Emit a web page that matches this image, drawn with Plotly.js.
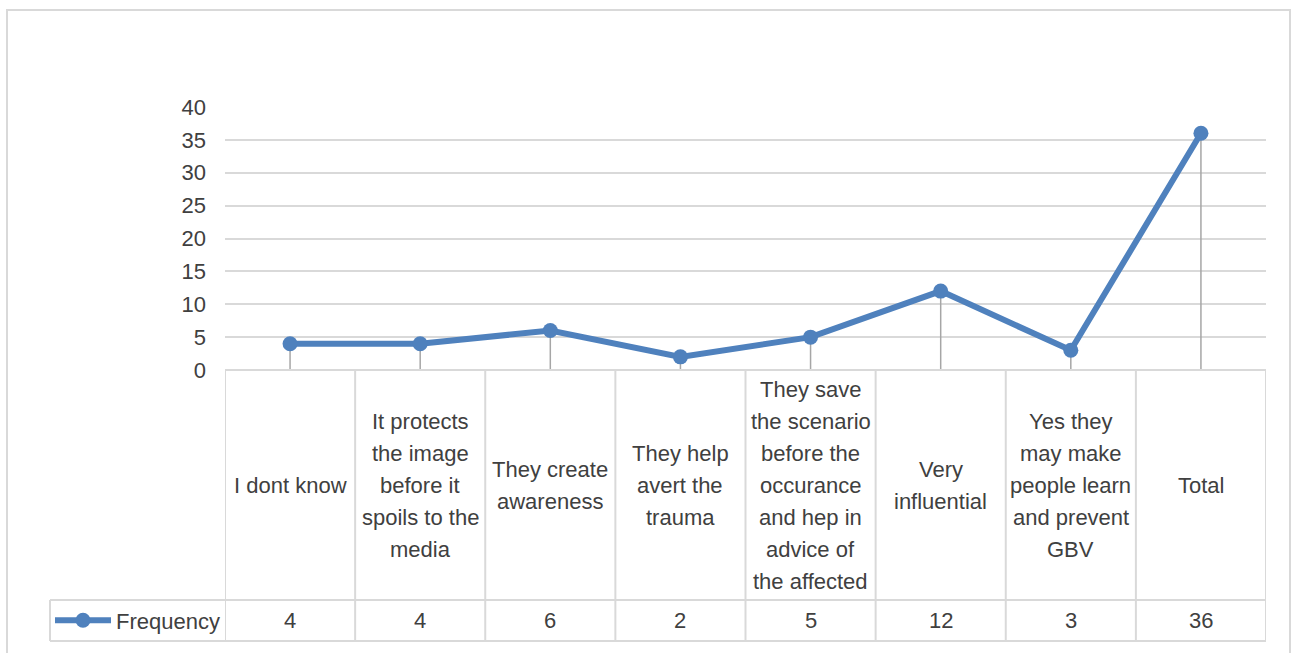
<!DOCTYPE html>
<html>
<head>
<meta charset="utf-8">
<script src="https://cdn.plot.ly/plotly-3.0.1.min.js"></script>
<style>
  html, body { margin: 0; padding: 0; background: #ffffff; overflow: hidden; }
  #frame { position: absolute; left: 6px; top: 9px; width: 1285px; height: 700px; border: 2px solid #d9d9d9; box-sizing: border-box; }
  #chart { position: absolute; left: 0; top: 0; width: 1298px; height: 653px; }
</style>
</head>
<body>
<div id="frame"></div>
<div id="chart"></div>
<script>
// ---- data ----
const categories = [
  "I dont know",
  "It protects<br>the image<br>before it<br>spoils to the<br>media",
  "They create<br>awareness",
  "They help<br>avert the<br>trauma",
  "They save<br>the scenario<br>before the<br>occurance<br>and hep in<br>advice of<br>the affected",
  "Very<br>influential",
  "Yes they<br>may make<br>people learn<br>and prevent<br>GBV",
  "Total"
];
const frequency = [4, 4, 6, 2, 5, 12, 3, 36];
const seriesName = "Frequency";
const yTicks = [0, 5, 10, 15, 20, 25, 30, 35, 40];

// ---- styling ----
const FONT = "Liberation Sans, Arial, sans-serif";
const FS = 22;
const TEXT_COLOR = "#404040";
const GRID = "#d9d9d9";
const TABLE = "#d9d9d9";
const LINE_COLOR = "#4f81bd";

const idx = categories.map((_, i) => i);
const n = categories.length;

const trace = {
  type: "scatter",
  mode: "lines+markers",
  name: seriesName,
  x: idx,
  y: frequency,
  line: { color: LINE_COLOR, width: 6 },
  marker: { color: LINE_COLOR, size: 15, symbol: "circle" },
  error_y: {
    type: "data",
    symmetric: false,
    array: frequency.map(() => 0),
    arrayminus: frequency,
    width: 0,
    thickness: 1.5,
    color: "#a6a6a6"
  },
  hoverinfo: "x+y"
};

// table geometry in pixels below plot bottom
const CAT_H = 230;   // category row height
const VAL_H = 41;    // value row height
const LEG_W = 175;   // legend cell width (left of plot)
const LINE_GAP = 32;

const shapes = [];
// vertical cell borders at category boundaries
for (let k = 0; k <= n; k++) {
  shapes.push({
    type: "line", xref: "x", yref: "paper", ysizemode: "pixel", yanchor: 0,
    x0: k - 0.5, x1: k - 0.5, y0: 0, y1: -(CAT_H + VAL_H),
    line: { color: TABLE, width: 2 }
  });
}
// horizontal borders
shapes.push({
  type: "line", xref: "x", yref: "paper", ysizemode: "pixel", yanchor: 0,
  x0: -0.5, x1: n - 0.5, y0: 0, y1: 0, line: { color: TABLE, width: 2 }
});
[CAT_H, CAT_H + VAL_H].forEach(h => {
  shapes.push({
    type: "line", xref: "paper", yref: "paper",
    xsizemode: "pixel", xanchor: 0, ysizemode: "pixel", yanchor: 0,
    x0: -LEG_W, x1: 1041, y0: -h, y1: -h, line: { color: TABLE, width: 2 }
  });
});
// legend cell left border
shapes.push({
  type: "line", xref: "paper", yref: "paper",
  xsizemode: "pixel", xanchor: 0, ysizemode: "pixel", yanchor: 0,
  x0: -LEG_W, x1: -LEG_W, y0: -CAT_H, y1: -(CAT_H + VAL_H), line: { color: TABLE, width: 2 }
});

const annotations = [];
categories.forEach((label, i) => {
  const lines = label.split("<br>");
  const m = lines.length;
  lines.forEach((ln, j) => {
    annotations.push({
      xref: "x", yref: "paper", x: i, y: 0,
      yanchor: "middle", xanchor: "center",
      yshift: -CAT_H / 2 - (j - (m - 1) / 2) * LINE_GAP,
      text: ln, showarrow: false,
      font: { family: FONT, size: FS, color: TEXT_COLOR }
    });
  });
  annotations.push({
    xref: "x", yref: "paper", x: i, y: 0,
    yanchor: "middle", xanchor: "center",
    yshift: -CAT_H - VAL_H / 2,
    text: String(frequency[i]), showarrow: false,
    font: { family: FONT, size: FS, color: TEXT_COLOR }
  });
});

const layout = {
  width: 1298, height: 653,
  margin: { l: 225, r: 32, t: 107, b: 283, pad: 0 },
  paper_bgcolor: "rgba(0,0,0,0)",
  plot_bgcolor: "rgba(0,0,0,0)",
  font: { family: FONT, size: FS, color: "#595959" },
  showlegend: true,
  legend: {
    x: -LEG_W / 1041, xanchor: "left",
    y: -(CAT_H + VAL_H / 2) / 263, yanchor: "middle",
    bgcolor: "rgba(0,0,0,0)",
    font: { family: FONT, size: FS, color: TEXT_COLOR },
    itemwidth: 56,
    tracegroupgap: 0
  },
  xaxis: {
    range: [-0.5, n - 0.5],
    showgrid: false, zeroline: false, showline: false,
    showticklabels: false, ticks: "", fixedrange: true
  },
  yaxis: {
    range: [0, 40],
    tickvals: yTicks,
    ticktext: yTicks.map(String),
    showgrid: true, gridcolor: GRID, gridwidth: 2,
    zeroline: false, showline: false, ticks: "",
    ticklabelstandoff: 18,
    tickfont: { family: FONT, size: FS, color: "#404040" },
    fixedrange: true
  },
  shapes: shapes,
  annotations: annotations
};

Plotly.newPlot("chart", [trace], layout, { displayModeBar: false, staticPlot: true });
</script>
</body>
</html>
